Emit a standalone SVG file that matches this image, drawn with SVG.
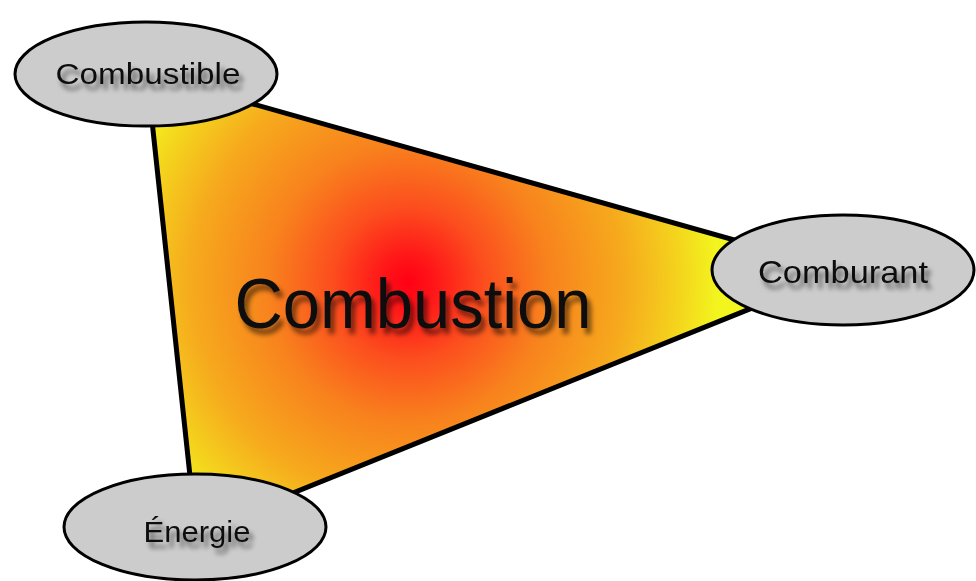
<svg xmlns="http://www.w3.org/2000/svg" width="976" height="581" viewBox="0 0 976 581">
  <defs>
    <radialGradient id="fire" gradientUnits="userSpaceOnUse" cx="408" cy="283" r="310">
      <stop offset="0" stop-color="#ff0014"/>
      <stop offset="0.08" stop-color="#ff1418"/>
      <stop offset="0.25" stop-color="#fc4f1e"/>
      <stop offset="0.45" stop-color="#f8821d"/>
      <stop offset="0.7" stop-color="#f6aa1d"/>
      <stop offset="0.88" stop-color="#f4d51d"/>
      <stop offset="1" stop-color="#f3f51e"/>
    </radialGradient>
    <filter id="shadow" x="-10%" y="-30%" width="130%" height="180%">
      <feGaussianBlur in="SourceAlpha" stdDeviation="2.5" result="b"/>
      <feOffset in="b" dx="4" dy="6" result="o"/>
      <feComponentTransfer in="o" result="s"><feFuncA type="linear" slope="0.55"/></feComponentTransfer>
      <feMerge><feMergeNode in="s"/><feMergeNode in="SourceGraphic"/></feMerge>
    </filter>
  </defs>
  <style>
    .node ellipse { fill: #cccccc; stroke: #000000; stroke-width: 3; }
    .label { font-family: "Liberation Sans", "DejaVu Sans", sans-serif; fill: #111111; text-anchor: middle; filter: url(#shadow); }
  </style>
  <rect width="976" height="581" fill="#ffffff"/>
  <g id="connectors">
    <polygon id="triangle" points="147,74 844,271 196,532" fill="url(#fire)" stroke="#000000" stroke-width="5" stroke-linejoin="round"/>
  </g>
  <g id="center">
    <text class="label" x="413" y="328" font-size="70" textLength="357" lengthAdjust="spacingAndGlyphs">Combustion</text>
  </g>
  <g id="combustible" class="node">
    <ellipse cx="146" cy="74" rx="131" ry="52"/>
    <text class="label" x="148" y="84" font-size="30" textLength="185" lengthAdjust="spacingAndGlyphs">Combustible</text>
  </g>
  <g id="comburant" class="node">
    <ellipse cx="843" cy="270" rx="131" ry="55"/>
    <text class="label" x="843" y="283" font-size="32" textLength="170" lengthAdjust="spacingAndGlyphs">Comburant</text>
  </g>
  <g id="energie" class="node">
    <ellipse cx="195" cy="527" rx="131" ry="53"/>
    <text class="label" x="197" y="542" font-size="30" textLength="107" lengthAdjust="spacingAndGlyphs">Énergie</text>
  </g>
</svg>
